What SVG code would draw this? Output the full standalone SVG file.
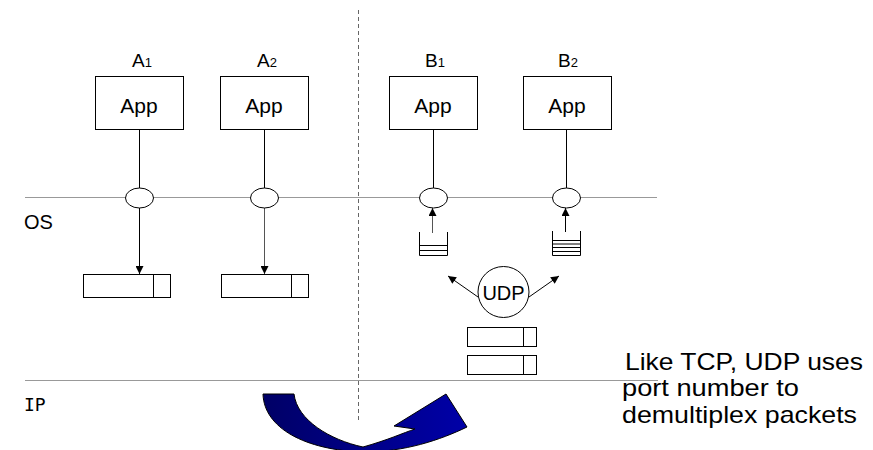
<svg xmlns="http://www.w3.org/2000/svg" width="873" height="450" viewBox="0 0 873 450">
  <defs>
    <style>
      .box { fill: #fff; stroke: #000; stroke-width: 1; }
      .lbl { font-family: "Liberation Sans", Arial, sans-serif; fill: #000; }
      .wire { stroke: #000; stroke-width: 1; fill: none; }
      .layer { stroke: #999; stroke-width: 1; fill: none; }
      .sock { fill: #fff; stroke: #000; stroke-width: 1; }
      .q { stroke: #000; stroke-width: 1; fill: none; }
    </style>
    <marker id="ah" viewBox="0 0 10 10" refX="10" refY="5" markerWidth="9" markerHeight="8" markerUnits="userSpaceOnUse" orient="auto">
      <path d="M0,0 L10,5 L0,10 Z" fill="#000"/>
    </marker>
    <linearGradient id="blue" x1="0" y1="0" x2="1" y2="0">
      <stop offset="0" stop-color="#000066"/>
      <stop offset="1" stop-color="#0000A8"/>
    </linearGradient>
  </defs>

  <!-- layer boundaries -->
  <g id="layers">
    <line class="layer" x1="25" y1="197.5" x2="657" y2="197.5"/>
    <line class="layer" x1="25" y1="380.5" x2="658" y2="380.5"/>
    <line x1="358.5" y1="10" x2="358.5" y2="420" stroke="#666" stroke-width="1" stroke-dasharray="4,3"/>
    <text class="lbl" x="24" y="229" font-size="20">OS</text>
    <text x="24" y="411" font-size="18" font-family="DejaVu Sans Mono, Liberation Mono, monospace">IP</text>
  </g>

  <!-- applications -->
  <g id="appA1">
    <text class="lbl" x="132" y="67" font-size="19">A<tspan font-size="13">1</tspan></text>
    <rect class="box" x="95.5" y="76.5" width="88" height="53"/>
    <text class="lbl" x="139" y="113" font-size="21" text-anchor="middle">App</text>
  </g>
  <g id="appA2">
    <text class="lbl" x="257" y="67" font-size="19">A<tspan font-size="13">2</tspan></text>
    <rect class="box" x="220.5" y="76.5" width="88" height="53"/>
    <text class="lbl" x="264" y="113" font-size="21" text-anchor="middle">App</text>
  </g>
  <g id="appB1">
    <text class="lbl" x="425" y="67" font-size="19">B<tspan font-size="13">1</tspan></text>
    <rect class="box" x="389.5" y="76.5" width="88" height="53"/>
    <text class="lbl" x="433" y="113" font-size="21" text-anchor="middle">App</text>
  </g>
  <g id="appB2">
    <text class="lbl" x="558" y="67" font-size="19">B<tspan font-size="13">2</tspan></text>
    <rect class="box" x="523.5" y="76.5" width="88" height="53"/>
    <text class="lbl" x="567" y="113" font-size="21" text-anchor="middle">App</text>
  </g>

  <!-- connectors -->
  <g id="connectors">
    <line class="wire" x1="139.5" y1="130" x2="139.5" y2="188"/>
    <line class="wire" x1="264.5" y1="130" x2="264.5" y2="188"/>
    <line class="wire" x1="433.5" y1="130" x2="433.5" y2="188"/>
    <line class="wire" x1="566.5" y1="130" x2="566.5" y2="188"/>
    <line class="wire" x1="139.5" y1="208" x2="139.5" y2="274" marker-end="url(#ah)"/>
    <line x1="264.5" y1="208" x2="264.5" y2="274" stroke="#555" stroke-width="1" marker-end="url(#ah)"/>
    <line x1="432.5" y1="233" x2="432.5" y2="208" stroke="#555" stroke-width="1" marker-end="url(#ah)"/>
    <line class="wire" x1="565.5" y1="232" x2="565.5" y2="208" marker-end="url(#ah)"/>
    <line class="wire" x1="478" y1="297" x2="448" y2="276" marker-end="url(#ah)"/>
    <line class="wire" x1="529" y1="297" x2="559" y2="276" marker-end="url(#ah)"/>
  </g>

  <!-- sockets -->
  <g id="sockA1"><ellipse class="sock" cx="139.5" cy="198" rx="14" ry="10"/></g>
  <g id="sockA2"><ellipse class="sock" cx="264.5" cy="198" rx="14" ry="10"/></g>
  <g id="sockB1"><ellipse class="sock" cx="433.5" cy="198" rx="14" ry="10"/></g>
  <g id="sockB2"><ellipse class="sock" cx="566.5" cy="198" rx="14" ry="10"/></g>

  <!-- outgoing packet buffers -->
  <g id="bufA1">
    <rect class="box" x="83.5" y="274.5" width="87" height="23"/>
    <line class="wire" x1="153.5" y1="274.5" x2="153.5" y2="297.5"/>
  </g>
  <g id="bufA2">
    <rect class="box" x="221.5" y="274.5" width="87" height="23"/>
    <line class="wire" x1="291.5" y1="274.5" x2="291.5" y2="297.5"/>
  </g>

  <!-- receive queues -->
  <g id="queueB1">
    <path class="q" d="M419.5,232 V255.5 H447.5 V232"/>
    <line class="q" x1="419.5" y1="245.5" x2="447.5" y2="245.5"/>
    <line class="q" x1="419.5" y1="250.5" x2="447.5" y2="250.5"/>
  </g>
  <g id="queueB2">
    <path class="q" d="M552.5,231 V255.5 H580.5 V231"/>
    <line class="q" x1="552.5" y1="240.5" x2="580.5" y2="240.5"/>
    <line class="q" x1="552.5" y1="244" x2="580.5" y2="244"/>
    <line class="q" x1="552.5" y1="247.5" x2="580.5" y2="247.5"/>
    <line class="q" x1="552.5" y1="251.5" x2="580.5" y2="251.5"/>
  </g>

  <!-- UDP demultiplexer -->
  <g id="udp">
    <circle class="sock" cx="503.5" cy="292" r="25.5"/>
    <text class="lbl" x="503.5" y="300" font-size="20" text-anchor="middle">UDP</text>
  </g>

  <!-- incoming packets -->
  <g id="pktIn1">
    <rect class="box" x="467.5" y="327.5" width="69" height="19"/>
    <line class="wire" x1="523.5" y1="327.5" x2="523.5" y2="346.5"/>
  </g>
  <g id="pktIn2">
    <rect class="box" x="467.5" y="355.5" width="69" height="19"/>
    <line class="wire" x1="523.5" y1="355.5" x2="523.5" y2="374.5"/>
  </g>

  <!-- transfer arrow -->
  <g id="transfer">
    <path d="M263,394 L294,394 C297,420 330,440 363,447 C388,440 403,433 415,429 L394,426 L446,394 L467,427 C440,440 405,452 363,452 C305,450 264,428 263,394 Z" fill="url(#blue)" stroke="#000" stroke-width="1"/>
  </g>

  <!-- note -->
  <g id="note" class="lbl" font-size="24">
    <text x="625" y="370" textLength="238" lengthAdjust="spacingAndGlyphs">Like TCP, UDP uses</text>
    <text x="622" y="396" textLength="177" lengthAdjust="spacingAndGlyphs">port number to</text>
    <text x="622" y="423" textLength="235" lengthAdjust="spacingAndGlyphs">demultiplex packets</text>
  </g>
</svg>
